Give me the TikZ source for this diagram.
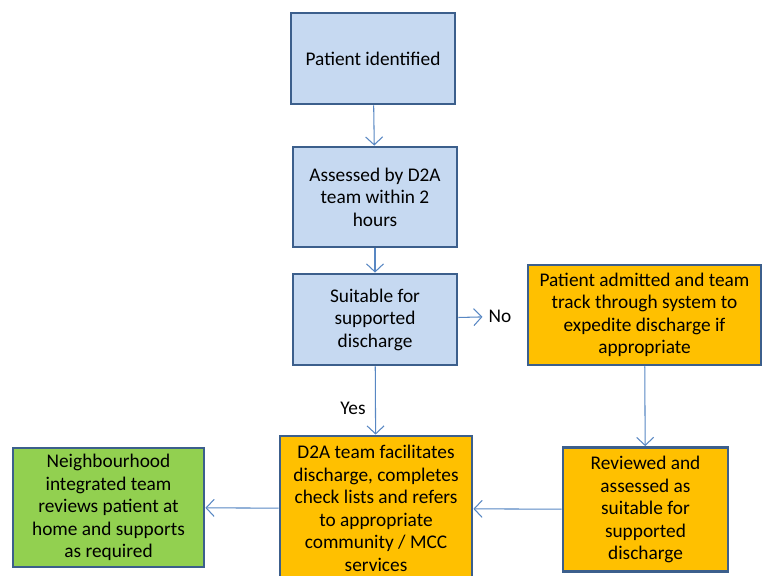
\documentclass[tikz,border=0pt]{standalone}
\usepackage{fontspec}
\setmainfont{Carlito}
\usepackage{xcolor}
\usepackage{tikz}
\usetikzlibrary{arrows.meta, positioning}
\definecolor{boxline}{RGB}{60,95,140}
\definecolor{bluefill}{RGB}{198,217,241}
\definecolor{amberfill}{RGB}{255,192,0}
\definecolor{greenfill}{RGB}{146,208,80}
\definecolor{flowline}{RGB}{88,135,195}
\tikzset{
  flowbox/.style={
    draw=boxline, line width=1.6pt, align=center,
    font=\fontsize{11}{12.8}\selectfont, inner sep=2pt
  },
  askbox/.style={flowbox, fill=bluefill, minimum width=3.28cm},
  actbox/.style={flowbox, fill=amberfill},
  homebox/.style={flowbox, fill=greenfill},
  flowarrow/.style={-{Straight Barb[length=1.6mm, width=3.4mm]}, line width=0.6pt, color=flowline},
  branchlabel/.style={font=\fontsize{11}{12.8}\selectfont, text=black},
}
\begin{document}
\begin{tikzpicture}
  \useasboundingbox (0,0) rectangle (15.24,11.52);

  \node[askbox, minimum height=1.82cm] (ident) at (7.46,10.35) {Patient identified};
  \node[askbox, minimum height=2cm] (assess) at (7.5,7.58) {Assessed by D2A\\team within 2\\hours};
  \node[askbox, minimum height=1.82cm] (suit) at (7.5,5.13) {Suitable for\\supported\\discharge};
  \node[branchlabel] (no) at (10.0,5.19) {No};

  \node[actbox, minimum width=4.66cm, minimum height=2cm] (admit) at (12.89,5.22) {Patient admitted and team\\track through system to\\expedite discharge if\\appropriate};
  \node[actbox, minimum width=3.3cm, minimum height=2.48cm] (review) at (12.91,1.33) {Reviewed and\\assessed as\\suitable for\\supported\\discharge};

  \node[actbox, minimum width=3.84cm, minimum height=2.9cm] (facil) at (7.52,1.35) {D2A team facilitates\\discharge, completes\\check lists and refers\\to appropriate\\community / MCC\\services};
  \node[homebox, minimum width=3.82cm, minimum height=2.38cm] (neigh) at (2.17,1.37) {Neighbourhood\\integrated team\\reviews patient at\\home and supports\\as required};

  \draw[flowarrow] (ident) -- (assess);
  \draw[flowarrow] (assess) -- (suit);
  \draw[flowarrow] (suit) -- (no);
  \draw[flowarrow] (suit) -- node[branchlabel, left=2pt, pos=0.62] (yes) {Yes} (facil);
  \draw[flowarrow] (admit) -- (review);
  \draw[flowarrow] (review) -- (facil);
  \draw[flowarrow] (facil) -- (neigh);
\end{tikzpicture}
\end{document}
